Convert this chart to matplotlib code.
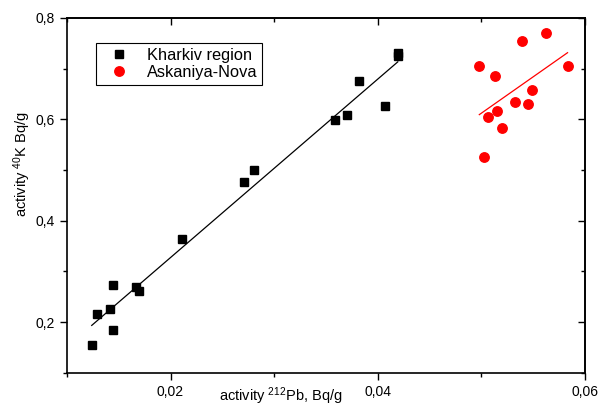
import matplotlib.pyplot as plt
import numpy as np
from matplotlib.ticker import FuncFormatter, MultipleLocator

# Data
kharkiv_pb = np.array([0.01239, 0.01293, 0.01412, 0.01441, 0.01444, 0.01669, 0.01692,
                       0.02113, 0.0271, 0.0281, 0.0359, 0.0370, 0.03822, 0.04072,
                       0.04194, 0.04194])
kharkiv_k = np.array([0.156, 0.216, 0.226, 0.274, 0.184, 0.269, 0.262,
                      0.364, 0.477, 0.500, 0.598, 0.609, 0.676, 0.627,
                      0.731, 0.724])

askania_pb = np.array([0.04981, 0.05133, 0.0539, 0.05621, 0.05833, 0.05489,
                       0.05330, 0.05456, 0.05152, 0.05062, 0.05201, 0.05030])
askania_k = np.array([0.706, 0.685, 0.754, 0.770, 0.705, 0.658,
                      0.634, 0.631, 0.616, 0.605, 0.582, 0.526])

# Fonts
plt.rcParams.update({
    "font.family": ["Liberation Sans", "DejaVu Sans"],
    "mathtext.fontset": "custom",
    "mathtext.rm": "Liberation Sans",
    "mathtext.it": "Liberation Sans",
})

fig = plt.figure(figsize=(5.98, 4.08), dpi=100)
ax = fig.add_axes([0.112, 0.086, 0.866, 0.870])

ax.plot(kharkiv_pb, kharkiv_k, "s", color="black", ms=6.3, label="Kharkiv region")
ax.plot(askania_pb, askania_k, "o", color="red", ms=6.8, mec="red", label="Askaniya-Nova")

# linear fits
for xs, ys, c in [(kharkiv_pb, kharkiv_k, "black"), (askania_pb, askania_k, "red")]:
    p = np.polyfit(xs, ys, 1)
    xx = np.array([xs.min(), xs.max()])
    ax.plot(xx, np.polyval(p, xx), "-", color=c, lw=0.9)

ax.set_xlim(0.01, 0.06)
ax.set_ylim(0.1, 0.8)

ax.xaxis.set_major_locator(MultipleLocator(0.02))
ax.xaxis.set_minor_locator(MultipleLocator(0.01))
ax.yaxis.set_major_locator(MultipleLocator(0.2))
ax.yaxis.set_minor_locator(MultipleLocator(0.1))

comma = FuncFormatter(lambda v, pos: f"{v:g}".replace(".", ","))
ax.xaxis.set_major_formatter(comma)
ax.yaxis.set_major_formatter(comma)

for s in ax.spines.values():
    s.set_linewidth(1.2)

ax.tick_params(which="both", direction="out", width=1, labelsize=10)
ax.tick_params(which="major", length=5)
ax.tick_params(which="minor", length=3)

# top and right ticks pointing inward
top = ax.secondary_xaxis("top")
top.xaxis.set_major_locator(MultipleLocator(0.02))
top.xaxis.set_minor_locator(MultipleLocator(0.01))
top.tick_params(which="both", direction="in", labeltop=False, width=1)
top.tick_params(which="major", length=5)
top.tick_params(which="minor", length=3)
top.spines["top"].set_linewidth(1.2)
right = ax.secondary_yaxis("right")
right.yaxis.set_major_locator(MultipleLocator(0.2))
right.yaxis.set_minor_locator(MultipleLocator(0.1))
right.tick_params(which="both", direction="in", labelright=False, width=1)
right.tick_params(which="major", length=5)
right.tick_params(which="minor", length=3)
right.spines["right"].set_linewidth(1.2)

ax.set_xlabel("activity $^{212}$Pb, Bq/g", fontsize=10.5)
ax.set_ylabel("activity $^{40}$K Bq/g", fontsize=10.5)
ax.xaxis.set_label_coords(0.413, -0.036)
ax.yaxis.set_label_coords(-0.066, 0.589)

leg = ax.legend(loc="upper left", bbox_to_anchor=(0.056, 0.930), borderaxespad=0,
                fontsize=11.8, frameon=True, fancybox=False, edgecolor="black",
                framealpha=1, handlelength=2.2, handletextpad=0.6,
                borderpad=0.3, labelspacing=0.12)
leg.get_frame().set_linewidth(0.8)

plt.savefig("out.png", dpi=100)
